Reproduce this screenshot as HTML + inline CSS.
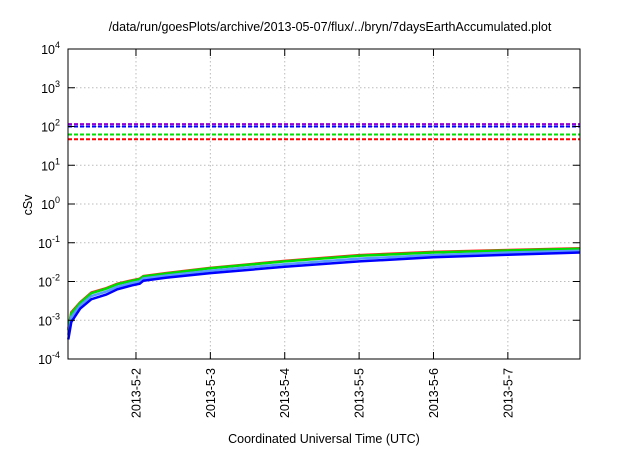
<!DOCTYPE html>
<html><head><meta charset="utf-8"><style>
body{margin:0;background:#fff}
svg text{font-family:"Liberation Sans",sans-serif;fill:#000}
</style></head><body>
<svg id="chart" width="640" height="448" xmlns="http://www.w3.org/2000/svg">
<rect width="640" height="448" fill="#fff"/>
<text x="330" y="31" text-anchor="middle" font-size="12.5">/data/run/goesPlots/archive/2013-05-07/flux/../bryn/7daysEarthAccumulated.plot</text>
<text transform="translate(32,205) rotate(-90)" text-anchor="middle" font-size="12.5">cSv</text>
<text x="324" y="443" text-anchor="middle" font-size="12.5">Coordinated Universal Time (UTC)</text>
<g id="grid"></g><g id="marks"></g><g id="axes"></g>
</svg>
<script>
const xTickDays=[2,3,4,5,6,7];
const xTickLabels=["2013-5-2","2013-5-3","2013-5-4","2013-5-5","2013-5-6","2013-5-7"];
const yTickExps=[-4,-3,-2,-1,0,1,2,3,4];
const days=[1.09,1.13,1.25,1.4,1.6,1.75,1.95,2.05,2.1,2.4,3.0,4.0,5.0,6.0,7.0,7.97];
const redVals=[6e-4,1.6e-3,2.9e-3,5.2e-3,6.7e-3,8.8e-3,1.08e-2,1.18e-2,1.38e-2,1.65e-2,2.25e-2,3.4e-2,4.8e-2,5.8e-2,6.5e-2,7.2e-2];
const greenVals=[5.5e-4,1.5e-3,2.8e-3,5e-3,6.5e-3,8.5e-3,1.05e-2,1.15e-2,1.35e-2,1.6e-2,2.2e-2,3.3e-2,4.6e-2,5.6e-2,6.3e-2,7.0e-2];
const lightBlueVals=[4.2e-4,1.2e-3,2.4e-3,4.2e-3,5.5e-3,7.3e-3,9.2e-3,1.0e-2,1.2e-2,1.42e-2,1.9e-2,2.8e-2,3.9e-2,4.8e-2,5.6e-2,6.2e-2];
const blueVals=[3.2e-4,9e-4,2.0e-3,3.5e-3,4.6e-3,6.3e-3,8e-3,8.8e-3,1.05e-2,1.25e-2,1.65e-2,2.4e-2,3.3e-2,4.2e-2,4.9e-2,5.6e-2];
const limitVals=[115,100,62,47];
const limitNames=["purple-limit","blue-limit","green-limit","red-limit"];

const L=68,R=580,T=49,B=359,D0=1.086,D1=7.97;
const NS="http://www.w3.org/2000/svg";
function xs(d){return L+(d-D0)/(D1-D0)*(R-L);}
function ys(v){return T+(4-Math.log10(v))/8*(B-T);}
function mk(tag,attrs,parent){const e=document.createElementNS(NS,tag);for(const k in attrs)e.setAttribute(k,attrs[k]);parent.appendChild(e);return e;}
const grid=document.getElementById('grid'),marks=document.getElementById('marks'),axes=document.getElementById('axes');
xTickDays.forEach((d,i)=>{
  const x=xs(d);
  const g=mk('line',{x1:x,x2:x,y1:T,y2:B,stroke:'#bbb','stroke-dasharray':'1.5,2.5','stroke-width':1},grid);
  
  
  const t1=mk('line',{x1:x,x2:x,y1:B,y2:B-7,stroke:'#000','stroke-width':1},axes);
  
  
  const t2=mk('line',{x1:x,x2:x,y1:T,y2:T+7,stroke:'#000','stroke-width':1},axes);
  
  
  const tx=mk('text',{transform:`translate(${x+4.5},${B+9}) rotate(-90)`,'text-anchor':'end','font-size':12.5},axes);
  tx.textContent=xTickLabels[i];
  
  
});
yTickExps.forEach(e=>{
  const y=ys(Math.pow(10,e));
  if(e>-4&&e<4){
    const g=mk('line',{x1:L,x2:R,y1:y,y2:y,stroke:'#bbb','stroke-dasharray':'1.5,2.5','stroke-width':1},grid);
    
    
  }
  const t1=mk('line',{x1:L,x2:L+7,y1:y,y2:y,stroke:'#000','stroke-width':1},axes);
  
  
  const t2=mk('line',{x1:R,x2:R-7,y1:y,y2:y,stroke:'#000','stroke-width':1},axes);
  
  
  const tx=mk('text',{x:L-8,y:y+5,'text-anchor':'end','font-size':12.5},axes);
  tx.innerHTML='10<tspan dy="-6" font-size="9">'+e+'</tspan>';
  
  
});
const fr=mk('rect',{x:L,y:T,width:R-L,height:B-T,fill:'none',stroke:'#000','stroke-width':1},axes);


const limitColors=['#9400d3','#0000ff','#00dd00','#ff0000'];
limitVals.forEach((v,i)=>{
  const y=ys(v);
  const l=mk('line',{x1:L,x2:R,y1:y,y2:y,stroke:limitColors[i],'stroke-width':2,'stroke-dasharray':'4,2'},marks);
  
  
});
const series=[[redVals,'#ff2020','red-series'],[greenVals,'#00dd00','green-series'],[lightBlueVals,'#5599ff','light-blue-series'],[blueVals,'#0000ff','blue-series']];
series.forEach(s=>{
  const pts=days.map((d,i)=>xs(d).toFixed(1)+','+ys(s[0][i]).toFixed(1)).join(' ');
  const p=mk('polyline',{points:pts,fill:'none',stroke:s[1],'stroke-width':2.5},marks);
  
  
});
</script>
</body></html>
